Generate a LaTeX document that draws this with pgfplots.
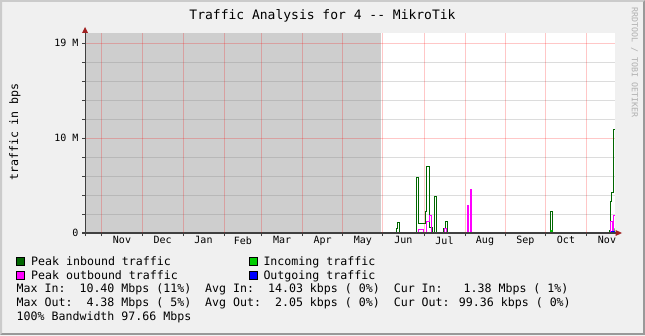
\documentclass[border=0pt]{standalone}
\usepackage{pgfplots}
\pgfplotsset{compat=1.18}
\usepackage{fontspec}
\newfontfamily\mono{DejaVu Sans Mono}
\definecolor{bgc}{HTML}{F0F0F0}
\definecolor{shadea}{HTML}{CBCBCB}
\definecolor{shadeb}{HTML}{999999}
\definecolor{unk}{HTML}{CECECE}
\definecolor{pkin}{HTML}{006600}
\definecolor{inc}{HTML}{00CC00}
\definecolor{pkout}{HTML}{FF00FF}
\definecolor{outg}{HTML}{0000FF}
\definecolor{arrowc}{HTML}{A02020}
\definecolor{axisc}{HTML}{404040}
\definecolor{wm}{HTML}{B0B0B0}
\definecolor{mgw}{HTML}{DCDCDC}
\definecolor{mgg}{HTML}{B8B8B8}
\newcommand{\lfont}{\mono\fontsize{11.6}{14}\selectfont}
\begin{document}
\begin{tikzpicture}[x=1pt,y=1pt]
\path[use as bounding box] (0,0) rectangle (645,335);
\fill[bgc] (0,0) rectangle (645,335);
\fill[shadea] (0,0) -- (0,335) -- (645,335) -- (643,333) -- (2,333) -- (2,2) -- cycle;
\fill[shadeb] (0,0) -- (645,0) -- (645,335) -- (643,333) -- (643,2) -- (2,2) -- cycle;
\node[font=\mono\fontsize{13}{15}\selectfont] at (322.5,319) {Traffic Analysis for 4 -{}- MikroTik};
\node[rotate=90, font=\lfont] at (15,203) {traffic in bps};
\node[rotate=-90, anchor=west, inner sep=0, font=\mono\fontsize{8.3}{10}\selectfont, text=wm] at (634.5,327.5) {RRDTOOL / TOBI OETIKER};
\begin{axis}[
 at={(85pt,102pt)}, anchor=south west,
 scale only axis, width=530pt, height=200pt,
 xmin=85, xmax=615, ymin=0, ymax=21.053,
 axis background/.style={fill=white},
 axis line style={draw=none},
 axis on top,
 tick align=outside, xtick pos=bottom, ytick pos=left,
 xtick={101.7,142.4,183,224,261.7,302.5,342.8,382.7,423.9,465,505,545.7,586.4},
 xticklabels={},
 extra x ticks={122,162.7,203.5,242.9,282.1,322.7,362.8,403.3,444.5,485,525.4,566,607},
 extra x tick labels={Nov,Dec,Jan,Feb,Mar,Apr,May,Jun,Jul,Aug,Sep,Oct,Nov},
 extra x tick style={major tick length=0pt, grid=none},
 ytick={0,2,4,6,8,10,12,14,16,18,20},
 yticklabels={0,,,,,10 M,,,,,19 M},
 xmajorgrids,
 major grid style={draw=red, opacity=0.22, line width=0.8pt},
 major tick length=3pt,
 tick style={draw=axisc, line width=0.8pt},
 ticklabel style={font=\mono\fontsize{10}{12}\selectfont},
 clip=false,
]
\addplot[fill=unk, draw=none, forget plot] coordinates {(85,21.053) (381,21.053)} \closedcycle;
% minor horizontal grid lines
\pgfplotsinvokeforeach{2,4,6,8,12,14,16,18}{
  \addplot[mgg, line width=1pt, forget plot] coordinates {(85,#1) (381,#1)};
  \addplot[mgw, line width=1pt, forget plot] coordinates {(381,#1) (615,#1)};
}
% major horizontal grid lines
\addplot[red, opacity=0.22, line width=0.8pt, forget plot] coordinates {(85,10) (615,10)};
\addplot[red, opacity=0.22, line width=0.8pt, forget plot] coordinates {(85,20) (615,20)};
% peak inbound
\addplot[const plot, draw=pkin, line width=1pt] coordinates {
(382,0) (396.5,0.5) (397.7,1.08) (399.5,0) (416.5,5.86) (418.7,1.02) (425.3,2.25) (426.7,6.98) (429,0.56) (432,0)
(434.7,3.82) (436.7,0) (443.9,0.45) (445.7,1.16) (447.7,0) (550.3,2.28) (552.7,0)
(609.7,0.3) (610.7,3.29) (611.7,4.24) (613.3,10.92) (614.5,10.92)};
% incoming
\addplot[const plot, fill=inc, draw=none] coordinates {
(382,0) (550.3,0.3) (552.7,0) (612.5,0.5) (614.5,0.5)} \closedcycle;
% peak outbound
\addplot[const plot, draw=pkout, line width=1pt] coordinates {
(382,0) (418.3,0.4) (423.5,0) (426.5,1.19) (429.3,1.79) (431.6,0) (444.2,0.5) (446.7,0)
(467,2.87) (468.7,0) (470,4.6) (471.8,0) (610.5,1.19) (612,0) (613.3,1.79) (614.5,1.79)};
% outgoing
\addplot[const plot, draw=outg, line width=1pt] coordinates {
(382,0) (611.5,0.12) (614.5,0.12)};
\draw[axisc, line width=1.3pt] ([xshift=-3pt]rel axis cs:0,0) -- ([xshift=3pt]rel axis cs:1,0);
\draw[axisc, line width=0.8pt] ([yshift=-3pt]rel axis cs:0,0) -- ([yshift=3pt]rel axis cs:0,1);
\fill[arrowc] ([xshift=0.5pt,yshift=-3pt]rel axis cs:1,0) -- ([xshift=7pt]rel axis cs:1,0) -- ([xshift=0.5pt,yshift=3pt]rel axis cs:1,0) -- cycle;
\fill[arrowc] ([xshift=-3pt,yshift=0pt]rel axis cs:0,1) -- ([yshift=6pt]rel axis cs:0,1) -- ([xshift=3pt]rel axis cs:0,1) -- cycle;
\end{axis}
% legend
\filldraw[fill=pkin, draw=black, line width=0.6pt] (16.5,69.5) rectangle ++(8,8);
\node[anchor=base west, inner sep=0, font=\lfont] at (31,70) {Peak inbound traffic};
\filldraw[fill=inc, draw=black, line width=0.6pt] (249.5,69.5) rectangle ++(8,8);
\node[anchor=base west, inner sep=0, font=\lfont] at (263.3,70) {Incoming traffic};
\filldraw[fill=pkout, draw=black, line width=0.6pt] (16.5,55.5) rectangle ++(8,8);
\node[anchor=base west, inner sep=0, font=\lfont] at (31,56) {Peak outbound traffic};
\filldraw[fill=outg, draw=black, line width=0.6pt] (249.5,55.5) rectangle ++(8,8);
\node[anchor=base west, inner sep=0, font=\lfont] at (263.3,56) {Outgoing traffic};
\node[anchor=base west, inner sep=0, font=\lfont] at (16.5,42.3) {Max In:~~10.40 Mbps (11\%)~~Avg In:~~14.03 kbps (~0\%)~~Cur In:~~~1.38 Mbps (~1\%)};
\node[anchor=base west, inner sep=0, font=\lfont] at (16.5,28.3) {Max Out:~~4.38 Mbps (~5\%)~~Avg Out:~~2.05 kbps (~0\%)~~Cur Out: 99.36 kbps (~0\%)};
\node[anchor=base west, inner sep=0, font=\lfont] at (16.5,14.3) {100\% Bandwidth 97.66 Mbps};
\end{tikzpicture}
\end{document}
